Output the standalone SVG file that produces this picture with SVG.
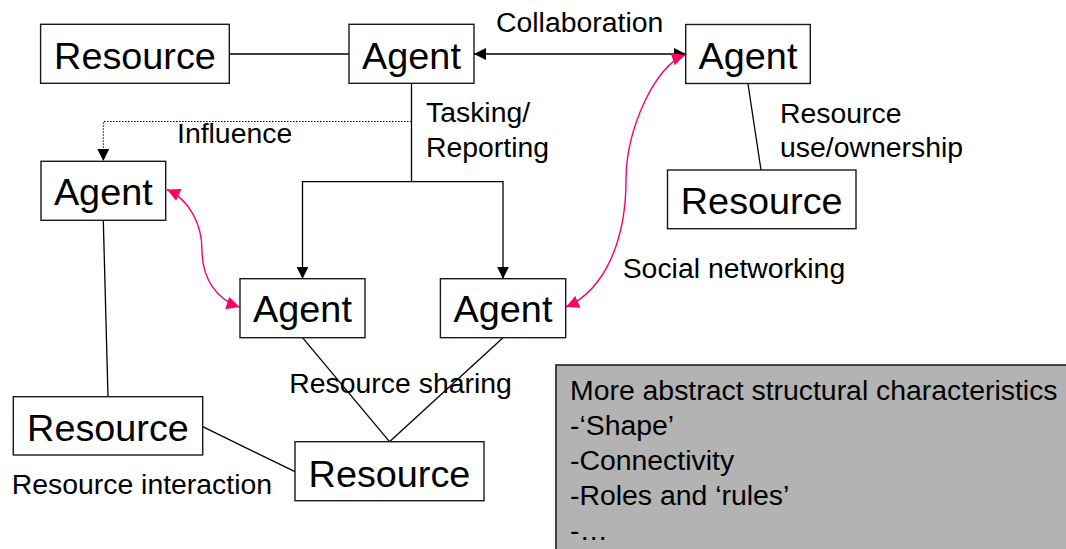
<svg xmlns="http://www.w3.org/2000/svg" width="1066" height="549" viewBox="0 0 1066 549">
<style>
.box{fill:#fff;stroke:#1a1a1a;stroke-width:1.4}
.big{font-family:"Liberation Sans",Arial,sans-serif;font-size:37.8px;fill:#000;text-anchor:middle}
.lbl{font-family:"Liberation Sans",Arial,sans-serif;font-size:28.4px;fill:#000}
.ln{stroke:#000;stroke-width:1.3;fill:none}
.pink{stroke:#ff0066;stroke-width:1.4;fill:none}
</style>
<defs>
<marker id="ah" markerUnits="userSpaceOnUse" markerWidth="13" markerHeight="12" refX="12" refY="6" orient="auto-start-reverse">
<path d="M0,0 L12,6 L0,12 z" fill="#000"/>
</marker>
<marker id="ahp" markerUnits="userSpaceOnUse" markerWidth="14" markerHeight="13" refX="13" refY="6.5" orient="auto-start-reverse">
<path d="M0,0 L13,6.5 L0,13 z" fill="#ff0066"/>
</marker>
</defs>
<rect width="1066" height="549" fill="#fff"/>
<g id="connectors">
<line class="ln" x1="229.5" y1="54" x2="349" y2="54"/>
<line class="ln" x1="474" y1="54" x2="686" y2="54" marker-start="url(#ah)" marker-end="url(#ah)"/>
<polyline class="ln" points="411.5,84 411.5,181.7"/>
<polyline class="ln" points="302.5,278.7 302.5,181.7 503,181.7 503,278.7" marker-start="url(#ah)" marker-end="url(#ah)"/>
<polyline points="411.5,121.5 103.3,121.5 103.3,161" fill="none" stroke="#000" stroke-width="1" stroke-dasharray="1.5,1.5" marker-end="url(#ah)"/>
<line class="ln" x1="748" y1="84" x2="761" y2="170"/>
<line class="ln" x1="103.3" y1="220.5" x2="108" y2="396.5"/>
<line class="ln" x1="202.7" y1="426.7" x2="295" y2="471.7"/>
<line class="ln" x1="302.5" y1="337.7" x2="389.5" y2="441.7"/>
<line class="ln" x1="503" y1="337.7" x2="389.5" y2="441.7"/>
<path class="pink" d="M167,189.5 C190,200 202,225 202,250 C202,280 218,300 239.5,307" marker-start="url(#ahp)" marker-end="url(#ahp)"/>
<path class="pink" d="M685,55 C655,65 626,130 626,180 C626,240 605,290 566,307" marker-start="url(#ahp)" marker-end="url(#ahp)"/>
</g>
<g id="labels">
<text class="lbl" x="496" y="31.7">Collaboration</text>
<text class="lbl" x="426" y="121.7">Tasking/</text>
<text class="lbl" x="426" y="156.7">Reporting</text>
<text class="lbl" x="177" y="143.3">Influence</text>
<text class="lbl" x="780" y="122.7">Resource</text>
<text class="lbl" x="780" y="156.7">use/ownership</text>
<text class="lbl" x="622.7" y="278.3">Social networking</text>
<text class="lbl" x="289.3" y="393.3">Resource sharing</text>
<text class="lbl" x="11.7" y="494.3">Resource interaction</text>
</g>
<g id="resource-top-left"><rect class="box" x="40.6" y="24.3" width="188.7" height="59"/><text class="big" x="135" y="69">Resource</text></g>
<g id="agent-top"><rect class="box" x="349" y="24.3" width="125" height="59"/><text class="big" x="411.5" y="69">Agent</text></g>
<g id="agent-right"><rect class="box" x="685.7" y="24.5" width="124.6" height="59"/><text class="big" x="748" y="69">Agent</text></g>
<g id="resource-right"><rect class="box" x="667.5" y="170" width="188.5" height="58.7"/><text class="big" x="761.7" y="213.5">Resource</text></g>
<g id="agent-left"><rect class="box" x="41" y="161.3" width="124.7" height="59"/><text class="big" x="103.3" y="204.5">Agent</text></g>
<g id="agent-mid-left"><rect class="box" x="240" y="278.7" width="125" height="59"/><text class="big" x="302.5" y="321.7">Agent</text></g>
<g id="agent-mid-right"><rect class="box" x="440.4" y="278.7" width="125.3" height="59"/><text class="big" x="503" y="321.7">Agent</text></g>
<g id="resource-lower-left"><rect class="box" x="13.3" y="396.7" width="189.4" height="58.3"/><text class="big" x="108" y="441">Resource</text></g>
<g id="resource-bottom"><rect class="box" x="295" y="441.7" width="189" height="59"/><text class="big" x="389.5" y="486.5">Resource</text></g>
<g id="characteristics">
<rect x="556" y="365" width="520" height="200" fill="#b3b3b3" stroke="#333" stroke-width="1.8"/>
<text class="lbl" x="570" y="400">More abstract structural characteristics</text>
<text class="lbl" x="570" y="435">-‘Shape’</text>
<text class="lbl" x="570" y="470">-Connectivity</text>
<text class="lbl" x="570" y="505">-Roles and ‘rules’</text>
<text class="lbl" x="570" y="540">-…</text>
</g>
</svg>
